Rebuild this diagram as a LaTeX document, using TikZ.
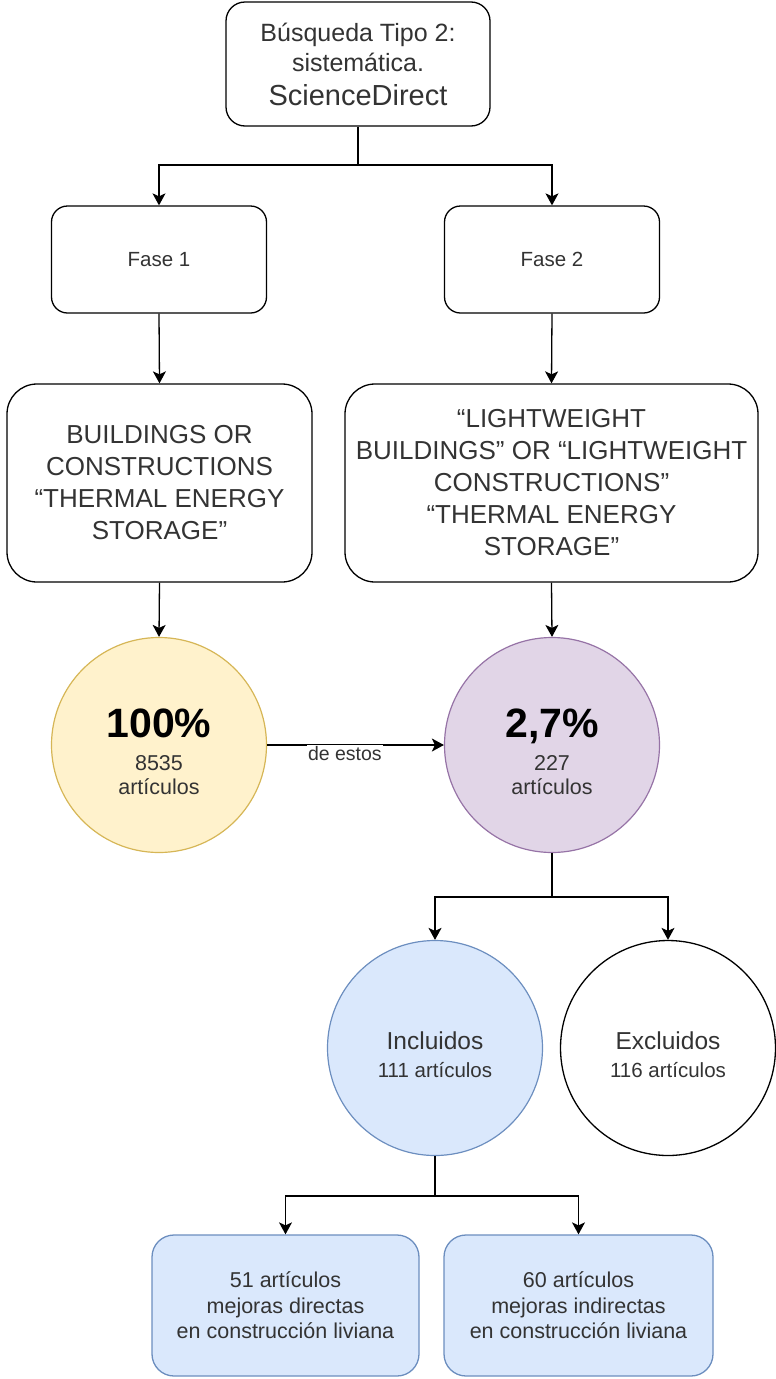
\documentclass[tikz,border=0pt]{standalone}
\usepackage{fontspec}
\setmainfont{Liberation Sans}
\usepackage{tikz}
\usetikzlibrary{arrows.meta,shapes,calc,positioning}
\definecolor{grisTexto}{RGB}{51,51,51}
\definecolor{amarilloFondo}{RGB}{255,242,204}
\definecolor{amarilloBorde}{RGB}{214,182,86}
\definecolor{moradoFondo}{RGB}{225,213,231}
\definecolor{moradoBorde}{RGB}{150,115,166}
\definecolor{azulFondo}{RGB}{218,232,252}
\definecolor{azulBorde}{RGB}{108,142,191}
\tikzstyle{edge}  =[-{Stealth[length=12pt,width=13pt,inset=3pt]},
                    line width=1.3pt]
\tikzstyle{tramo} =[line width=1.3pt]
\tikzstyle{caja}  =[rectangle, draw, rounded corners=16pt,
                    line width=1.3pt, align=center, inner sep=0pt,
                    text=grisTexto]
\tikzstyle{circulo}=[circle, draw, minimum size=215pt,
                    line width=1.2pt, align=center, inner sep=0pt,
                    text=grisTexto]

\begin{document}
\begin{tikzpicture}[x=1pt,y=-1pt]
    \useasboundingbox (0,0) rectangle (776,1379);

    % busqueda y fases
    \draw (358,64) node(busq)[caja,minimum width=264pt,minimum height=124pt,rounded corners=19pt,
        font=\fontsize{25}{30}\selectfont]
        {B\'usqueda Tipo 2:\\ sistem\'atica.\\[4pt] {\fontsize{29}{33}\selectfont ScienceDirect}};
    \draw (159,259.5) node(f1)[caja,minimum width=215pt,minimum height=107pt,
        font=\fontsize{20.5}{24}\selectfont]{Fase 1};
    \draw (552,259.5) node(f2)[caja,minimum width=215pt,minimum height=107pt,
        font=\fontsize{20.5}{24}\selectfont]{Fase 2};

    % cadenas de busqueda
    \draw (159.5,483) node(q1)[caja,minimum width=305pt,minimum height=198pt,rounded corners=30pt,
        font=\fontsize{26}{32}\selectfont]
        {BUILDINGS OR\\ CONSTRUCTIONS\\ “THERMAL ENERGY\\ STORAGE”};
    \draw (551.5,483) node(q2)[caja,minimum width=413pt,minimum height=198pt,rounded corners=30pt,
        font=\fontsize{26}{32}\selectfont]
        {“LIGHTWEIGHT\\ BUILDINGS” OR “LIGHTWEIGHT\\ CONSTRUCTIONS”\\ “THERMAL ENERGY\\ STORAGE”};

    % resultados
    \draw (159,745) node(total)[circulo,fill=amarilloFondo,draw=amarilloBorde,
        font=\fontsize{21.5}{24}\selectfont]
        {\rule{0pt}{42pt}{\color{black}\fontsize{41}{44}\selectfont\bfseries 100\%}\\[9pt] 8535\\ art\'iculos};
    \draw (552,745) node(parcial)[circulo,fill=moradoFondo,draw=moradoBorde,
        font=\fontsize{21.5}{24}\selectfont]
        {\rule{0pt}{42pt}{\color{black}\fontsize{41}{44}\selectfont\bfseries 2,7\%}\\[9pt] 227\\ art\'iculos};
    \draw (435,1048) node(inc)[circulo,fill=azulFondo,draw=azulBorde,
        font=\fontsize{20.5}{28}\selectfont]
        {\rule{0pt}{32pt}{\fontsize{24.5}{28}\selectfont Incluidos}\\ 111 art\'iculos};
    \draw (668,1048) node(exc)[circulo,draw=black,line width=1.3pt,
        font=\fontsize{20.5}{28}\selectfont]
        {\rule{0pt}{32pt}{\fontsize{24.5}{28}\selectfont Excluidos}\\ 116 art\'iculos};

    % clasificacion
    \draw (285.5,1305.5) node(dir)[caja,fill=azulFondo,draw=azulBorde,minimum width=267pt,
        minimum height=141pt,rounded corners=22pt,font=\fontsize{21.5}{25.5}\selectfont]
        {51 art\'iculos\\ mejoras directas\\ en construcci\'on liviana};
    \draw (578.5,1305.5) node(ind)[caja,fill=azulFondo,draw=azulBorde,minimum width=269pt,
        minimum height=141pt,rounded corners=22pt,font=\fontsize{21.5}{25.5}\selectfont]
        {60 art\'iculos\\ mejoras indirectas\\ en construcci\'on liviana};

    % conectores
    \coordinate (c1) at (358,165);
    \coordinate (c2) at (552,897);
    \coordinate (c3) at (435,1196);
    \draw [tramo] (busq.south) -- (c1);
    \draw [tramo] (parcial.south) -- (c2);
    \draw [tramo] (inc.south) -- (c3);
    \foreach \i/\j in {c1/f1,c1/f2,c2/inc,c2/exc,c3/dir,c3/ind}
        \draw [edge] (\i) -| (\j.north);
    \foreach \i/\j in {f1/q1,f2/q2,q1/total,q2/parcial}
        \draw [edge] (\i.south) -- (\j.north);
    \draw [edge] (total.east) -- (parcial.west)
        node[pos=0.44,yshift=-9pt,fill=white,inner sep=1.5pt,text=grisTexto,
        font=\fontsize{19.5}{22}\selectfont]{de estos};

\end{tikzpicture}
\end{document}
